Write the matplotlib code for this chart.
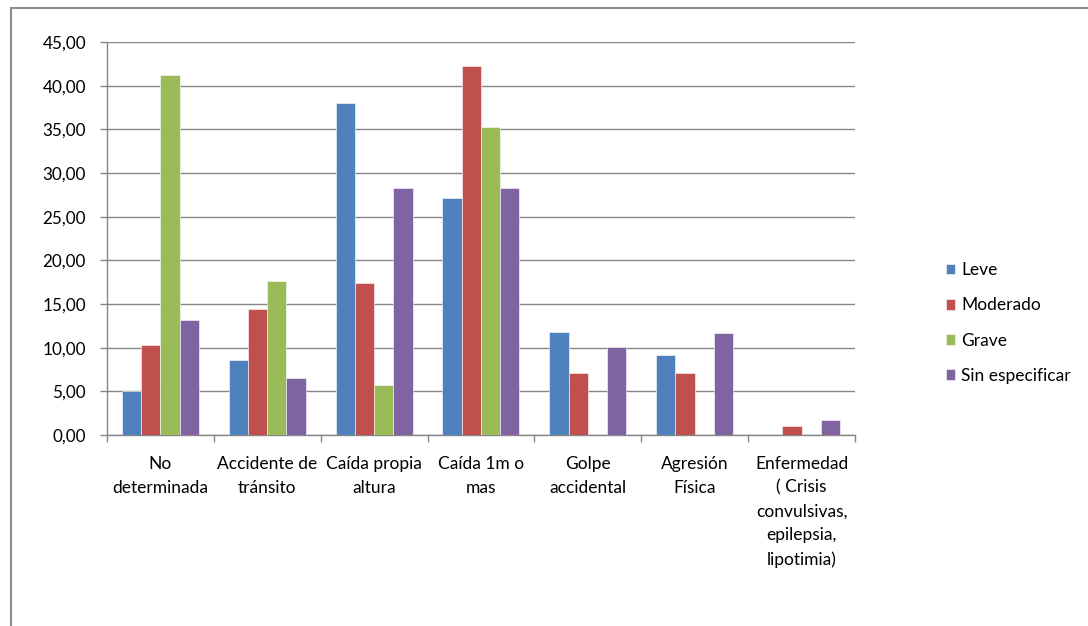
import numpy as np
import matplotlib.pyplot as plt
from matplotlib.patches import Rectangle
from matplotlib.ticker import FuncFormatter

plt.rcParams['font.family'] = ['Lato', 'DejaVu Sans']

# Data
categories = ["No\ndeterminada", "Accidente de\ntránsito", "Caída propia\naltura",
              "Caída 1m o\nmas", "Golpe\naccidental", "Agresión\nFísica",
              "Enfermedad\n( Crisis\nconvulsivas,\nepilepsia,\nlipotimia)"]
leve = [5.05, 8.64, 37.96, 27.10, 11.81, 9.17, 0.0]
moderado = [10.32, 14.41, 17.43, 42.20, 7.11, 7.11, 1.03]
grave = [41.17, 17.62, 5.73, 35.24, 0.0, 0.0, 0.0]
sin_especificar = [13.19, 6.57, 28.29, 28.29, 10.02, 11.70, 1.72]

series = [("Leve", leve, "#4F81BD"),
          ("Moderado", moderado, "#C0504D"),
          ("Grave", grave, "#9BBB59"),
          ("Sin especificar", sin_especificar, "#8064A2")]

fig = plt.figure(figsize=(10.88, 6.26), dpi=100)
ax = fig.add_axes([0.0983, 0.3051, 0.6875, 0.6278])

# chart border (only top/left visible in the reference)
fig.patches.append(Rectangle((11 / 1088, -0.1), 1.2, (626 - 8) / 626 + 0.1,
                             transform=fig.transFigure, fill=False,
                             edgecolor="#8c8c8c", linewidth=1.5))

x = np.arange(len(categories))
w = 0.18
offsets = [-1.5 * w, -0.5 * w, 0.5 * w, 1.5 * w]
for (name, vals, col), off in zip(series, offsets):
    ax.bar(x + off, vals, width=w, color=col, edgecolor="white",
           linewidth=0.4, label=name, zorder=3)

ax.set_xlim(-0.5, len(categories) - 0.5)
ax.set_ylim(0, 45)
ax.set_yticks(np.arange(0, 46, 5))
ax.yaxis.set_major_formatter(FuncFormatter(lambda v, p: f"{v:.2f}".replace(".", ",")))
ax.grid(axis="y", color="#868686", linewidth=1, zorder=0)

ax.set_xticks(np.arange(-0.5, len(categories), 1))
ax.set_xticklabels([])
ax.set_xticks(x, minor=True)
ax.set_xticklabels(categories, minor=True, fontsize=12.5, linespacing=1.6,
                   verticalalignment="top")
ax.tick_params(axis="x", which="minor", length=0, pad=15)
ax.tick_params(axis="x", which="major", length=5, color="#868686", width=1)
ax.tick_params(axis="y", length=5, color="#868686", width=1, labelsize=12.3, pad=10)

for s in ["top", "right"]:
    ax.spines[s].set_visible(False)
for s in ["left", "bottom"]:
    ax.spines[s].set_color("#868686")
    ax.spines[s].set_linewidth(1)

fig.legend(loc="center left", bbox_to_anchor=(0.855, 0.484), frameon=False,
           fontsize=12.5, handlelength=0.55, handleheight=0.55, handletextpad=0.35,
           labelspacing=1.1)

fig.savefig("out.png", dpi=100)
